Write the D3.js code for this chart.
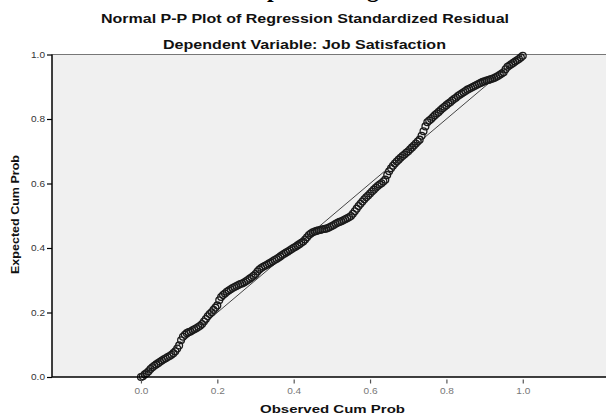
<!DOCTYPE html>
<html>
<head>
<meta charset="utf-8">
<script src="https://cdn.jsdelivr.net/npm/d3@7"></script>
<style>
  body { margin: 0; background: #fff; }
  svg { display: block; }
  text { font-family: "Liberation Sans", Arial, sans-serif; }
</style>
</head>
<body>
<div id="chart"></div>
<script>
// observed vs expected cumulative probability
var obsCumProb = [
  0.000, 0.005, 0.010, 0.015, 0.020, 0.025, 0.030, 0.035, 0.040, 0.045,
  0.050, 0.055, 0.060, 0.065, 0.070, 0.075, 0.080, 0.085, 0.090, 0.095,
  0.100, 0.105, 0.110, 0.115, 0.120, 0.125, 0.130, 0.135, 0.140, 0.145,
  0.150, 0.155, 0.160, 0.165, 0.170, 0.175, 0.180, 0.185, 0.190, 0.195,
  0.200, 0.205, 0.210, 0.215, 0.220, 0.225, 0.230, 0.235, 0.240, 0.245,
  0.250, 0.255, 0.260, 0.265, 0.270, 0.275, 0.280, 0.285, 0.290, 0.295,
  0.300, 0.305, 0.310, 0.315, 0.320, 0.325, 0.330, 0.335, 0.340, 0.345,
  0.350, 0.355, 0.360, 0.365, 0.370, 0.375, 0.380, 0.385, 0.390, 0.395,
  0.400, 0.405, 0.410, 0.415, 0.420, 0.425, 0.430, 0.435, 0.440, 0.445,
  0.450, 0.455, 0.460, 0.465, 0.470, 0.475, 0.480, 0.485, 0.490, 0.495,
  0.500, 0.505, 0.510, 0.515, 0.520, 0.525, 0.530, 0.535, 0.540, 0.545,
  0.550, 0.555, 0.560, 0.565, 0.570, 0.575, 0.580, 0.585, 0.590, 0.595,
  0.600, 0.605, 0.610, 0.615, 0.620, 0.625, 0.630, 0.635, 0.640, 0.645,
  0.650, 0.655, 0.660, 0.665, 0.670, 0.675, 0.680, 0.685, 0.690, 0.695,
  0.700, 0.705, 0.710, 0.715, 0.720, 0.725, 0.730, 0.735, 0.740, 0.745,
  0.750, 0.755, 0.760, 0.765, 0.770, 0.775, 0.780, 0.785, 0.790, 0.795,
  0.800, 0.805, 0.810, 0.815, 0.820, 0.825, 0.830, 0.835, 0.840, 0.845,
  0.850, 0.855, 0.860, 0.865, 0.870, 0.875, 0.880, 0.885, 0.890, 0.895,
  0.900, 0.905, 0.910, 0.915, 0.920, 0.925, 0.930, 0.935, 0.940, 0.945,
  0.950, 0.955, 0.960, 0.965, 0.970, 0.975, 0.980, 0.985, 0.990, 0.995,
  1.000
];
var expCumProb = [
  0.000, 0.002, 0.008, 0.012, 0.018, 0.025, 0.030, 0.035, 0.039, 0.043,
  0.047, 0.051, 0.055, 0.058, 0.062, 0.065, 0.069, 0.074, 0.080, 0.088,
  0.098, 0.114, 0.125, 0.131, 0.136, 0.139, 0.141, 0.145, 0.148, 0.151,
  0.155, 0.159, 0.164, 0.172, 0.180, 0.188, 0.195, 0.201, 0.208, 0.215,
  0.222, 0.238, 0.248, 0.254, 0.259, 0.264, 0.268, 0.272, 0.276, 0.279,
  0.282, 0.285, 0.288, 0.290, 0.293, 0.297, 0.301, 0.305, 0.309, 0.314,
  0.319, 0.327, 0.333, 0.338, 0.342, 0.345, 0.348, 0.352, 0.355, 0.359,
  0.363, 0.366, 0.370, 0.374, 0.378, 0.382, 0.386, 0.389, 0.393, 0.397,
  0.401, 0.404, 0.408, 0.412, 0.416, 0.420, 0.426, 0.433, 0.440, 0.445,
  0.449, 0.451, 0.453, 0.455, 0.456, 0.458, 0.459, 0.460, 0.462, 0.465,
  0.468, 0.471, 0.475, 0.478, 0.481, 0.483, 0.486, 0.489, 0.492, 0.495,
  0.499, 0.506, 0.514, 0.522, 0.530, 0.537, 0.544, 0.551, 0.557, 0.563,
  0.569, 0.575, 0.581, 0.587, 0.592, 0.597, 0.601, 0.606, 0.612, 0.626,
  0.638, 0.647, 0.655, 0.662, 0.668, 0.674, 0.680, 0.685, 0.690, 0.695,
  0.700, 0.706, 0.712, 0.718, 0.724, 0.730, 0.736, 0.748, 0.762, 0.777,
  0.790, 0.795, 0.800, 0.806, 0.812, 0.817, 0.822, 0.828, 0.833, 0.838,
  0.843, 0.848, 0.852, 0.857, 0.862, 0.866, 0.871, 0.875, 0.879, 0.883,
  0.887, 0.891, 0.894, 0.897, 0.900, 0.903, 0.906, 0.909, 0.912, 0.915,
  0.917, 0.919, 0.921, 0.923, 0.925, 0.927, 0.930, 0.933, 0.937, 0.941,
  0.945, 0.954, 0.962, 0.966, 0.970, 0.974, 0.978, 0.982, 0.986, 0.991,
  0.996
];
var xTicks = [0.0, 0.2, 0.4, 0.6, 0.8, 1.0];
var yTicks = [0.0, 0.2, 0.4, 0.6, 0.8, 1.0];

(function () {
  var W = 606, H = 416;
  var pLeft = 52, pTop = 54.5, pBottom = 377, pRight = 606;

  var svg = d3.select("#chart").append("svg")
    .attr("width", W).attr("height", H);

  var x = d3.scaleLinear().domain([-0.233, 1.218]).range([pLeft, pRight]);
  var y = d3.scaleLinear().domain([0, 1]).range([pBottom, pTop]);

  // heading of the page above, cut off by the crop
  var cut = svg.append("text")
    .attr("y", -3)
    .style("font-family", "'Liberation Serif', 'Times New Roman', serif")
    .style("font-weight", "bold")
    .style("font-size", "24px")
    .attr("fill", "#000")
    .text("Normal P-P plot of Regression");
  var off = cut.node().getSubStringLength(0, 11);
  cut.attr("x", 267 - off);

  // titles
  svg.append("text")
    .attr("x", 101).attr("y", 23)
    .attr("textLength", 408).attr("lengthAdjust", "spacingAndGlyphs")
    .style("font-weight", "bold").style("font-size", "12px")
    .attr("fill", "#111")
    .text("Normal P-P Plot of Regression Standardized Residual");

  svg.append("text")
    .attr("x", 163).attr("y", 49)
    .attr("textLength", 283).attr("lengthAdjust", "spacingAndGlyphs")
    .style("font-weight", "bold").style("font-size", "12px")
    .attr("fill", "#111")
    .text("Dependent Variable: Job Satisfaction");

  // plot area
  svg.append("rect")
    .attr("x", pLeft).attr("y", pTop)
    .attr("width", pRight - pLeft).attr("height", pBottom - pTop)
    .attr("fill", "#f0f0f0");

  svg.append("line")
    .attr("x1", pLeft).attr("x2", pRight).attr("y1", pTop).attr("y2", pTop)
    .attr("stroke", "#777").attr("stroke-width", 1.2);

  // reference diagonal
  svg.append("line")
    .attr("x1", x(0)).attr("y1", y(0)).attr("x2", x(1)).attr("y2", y(1))
    .attr("stroke", "#444").attr("stroke-width", 1);

  // points
  svg.append("g").selectAll("circle")
    .data(obsCumProb)
    .enter().append("circle")
    .attr("cx", function (d) { return x(d); })
    .attr("cy", function (d, i) { return y(expCumProb[i]); })
    .attr("r", 3.4)
    .attr("fill", "none")
    .attr("stroke", "#1a1a1a")
    .attr("stroke-width", 1.3);

  // axes
  var yAxis = svg.append("g")
    .attr("transform", "translate(" + pLeft + ",0)")
    .call(d3.axisLeft(y).tickValues(yTicks).tickFormat(d3.format(".1f"))
      .tickSize(5).tickPadding(2));
  yAxis.select(".domain").remove();
  yAxis.selectAll(".tick line").attr("stroke", "#000").attr("stroke-width", 1.2);
  yAxis.selectAll(".tick text")
    .attr("textLength", 14).attr("lengthAdjust", "spacingAndGlyphs")
    .style("font-size", "8.5px").style("font-family", "'Liberation Sans', Arial, sans-serif")
    .attr("fill", "#333");

  var xAxis = svg.append("g")
    .attr("transform", "translate(0," + (pBottom + 2.5) + ")")
    .call(d3.axisBottom(x).tickValues(xTicks).tickFormat(d3.format(".1f"))
      .tickSize(4).tickPadding(4));
  xAxis.select(".domain").remove();
  xAxis.selectAll(".tick line").attr("stroke", "#555").attr("stroke-width", 1.2);
  xAxis.selectAll(".tick text")
    .attr("textLength", 14).attr("lengthAdjust", "spacingAndGlyphs")
    .style("font-size", "8.5px").style("font-family", "'Liberation Sans', Arial, sans-serif")
    .attr("fill", "#777");

  svg.append("line")
    .attr("x1", pLeft).attr("x2", pLeft).attr("y1", pTop).attr("y2", pBottom)
    .attr("stroke", "#000").attr("stroke-width", 1.5);
  svg.append("line")
    .attr("x1", pLeft).attr("x2", pRight).attr("y1", pBottom).attr("y2", pBottom)
    .attr("stroke", "#000").attr("stroke-width", 1.5);

  // axis titles
  svg.append("text")
    .attr("x", 260).attr("y", 413)
    .attr("textLength", 145).attr("lengthAdjust", "spacingAndGlyphs")
    .style("font-weight", "bold").style("font-size", "11.5px")
    .attr("fill", "#111")
    .text("Observed Cum Prob");

  svg.append("text")
    .attr("transform", "translate(19,274) rotate(-90)")
    .attr("textLength", 119).attr("lengthAdjust", "spacingAndGlyphs")
    .style("font-weight", "bold").style("font-size", "11.5px")
    .attr("fill", "#111")
    .text("Expected Cum Prob");
})();
</script>
</body>
</html>
